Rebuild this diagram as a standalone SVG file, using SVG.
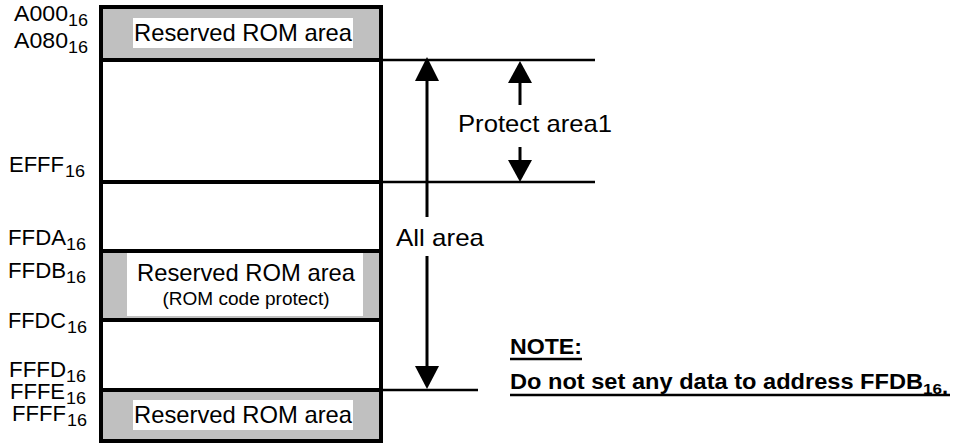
<svg xmlns="http://www.w3.org/2000/svg" width="957" height="445" viewBox="0 0 957 445">
<style>
text{font-family:"Liberation Sans",Arial,sans-serif;fill:#000}
.addr{font-size:22px;text-anchor:start}
.sub{font-size:16px}
.lbl{font-size:24px;text-anchor:middle}
.small{font-size:18px;text-anchor:middle}
.big{font-size:24px}
.note{font-size:22px;font-weight:bold}
.gray{fill:#c0c0c0}
.white{fill:#fff}
.sep{stroke:#000;stroke-width:4}
.ext{stroke:#000;stroke-width:2.5}
.shaft{stroke:#000;stroke-width:3}
.ul{stroke:#000;stroke-width:2.5}
</style>
<rect width="957" height="445" fill="#fff"/>
<g id="memory-map">
  <g id="reserved-top">
    <rect class="gray" x="103" y="9" width="276" height="50"/>
    <rect class="white" x="133" y="18" width="220" height="30"/>
    <text class="lbl" x="243" y="41" textLength="218" lengthAdjust="spacingAndGlyphs">Reserved ROM area</text>
  </g>
  <g id="reserved-mid">
    <rect class="gray" x="103" y="253" width="276" height="65"/>
    <rect class="white" x="127" y="253" width="236" height="63"/>
    <text class="lbl" x="246" y="281" textLength="218" lengthAdjust="spacingAndGlyphs">Reserved ROM area</text>
    <text class="small" x="246" y="305" textLength="167" lengthAdjust="spacingAndGlyphs">(ROM code protect)</text>
  </g>
  <g id="reserved-bottom">
    <rect class="gray" x="103" y="392" width="276" height="47"/>
    <rect class="white" x="133" y="400" width="220" height="30"/>
    <text class="lbl" x="243" y="423" textLength="218" lengthAdjust="spacingAndGlyphs">Reserved ROM area</text>
  </g>
  <rect x="101" y="7" width="280" height="434" fill="none" stroke="#000" stroke-width="4"/>
  <line class="sep" x1="101" y1="60" x2="381" y2="60"/>
  <line class="sep" x1="101" y1="182" x2="381" y2="182"/>
  <line class="sep" x1="101" y1="251" x2="381" y2="251"/>
  <line class="sep" x1="101" y1="320" x2="381" y2="320"/>
  <line class="sep" x1="101" y1="390" x2="381" y2="390"/>
</g>
<g id="addresses">
  <text class="addr" x="14" y="21" textLength="54" lengthAdjust="spacingAndGlyphs">A000</text><text class="sub" x="68" y="26" textLength="20" lengthAdjust="spacingAndGlyphs">16</text>
  <text class="addr" x="14" y="48" textLength="54" lengthAdjust="spacingAndGlyphs">A080</text><text class="sub" x="68" y="53" textLength="20" lengthAdjust="spacingAndGlyphs">16</text>
  <text class="addr" x="9" y="172" textLength="55" lengthAdjust="spacingAndGlyphs">EFFF</text><text class="sub" x="65" y="177" textLength="20" lengthAdjust="spacingAndGlyphs">16</text>
  <text class="addr" x="8" y="245" textLength="58" lengthAdjust="spacingAndGlyphs">FFDA</text><text class="sub" x="66" y="250" textLength="20" lengthAdjust="spacingAndGlyphs">16</text>
  <text class="addr" x="8" y="278" textLength="58" lengthAdjust="spacingAndGlyphs">FFDB</text><text class="sub" x="66" y="283" textLength="20" lengthAdjust="spacingAndGlyphs">16</text>
  <text class="addr" x="8" y="328" textLength="58" lengthAdjust="spacingAndGlyphs">FFDC</text><text class="sub" x="67" y="333" textLength="20" lengthAdjust="spacingAndGlyphs">16</text>
  <text class="addr" x="9" y="377" textLength="57" lengthAdjust="spacingAndGlyphs">FFFD</text><text class="sub" x="66" y="382" textLength="20" lengthAdjust="spacingAndGlyphs">16</text>
  <text class="addr" x="10" y="399" textLength="55" lengthAdjust="spacingAndGlyphs">FFFE</text><text class="sub" x="66" y="404" textLength="20" lengthAdjust="spacingAndGlyphs">16</text>
  <text class="addr" x="12" y="421" textLength="54" lengthAdjust="spacingAndGlyphs">FFFF</text><text class="sub" x="67" y="426" textLength="20" lengthAdjust="spacingAndGlyphs">16</text>
</g>
<g id="connectors">
  <line class="ext" x1="381" y1="60" x2="595" y2="60"/>
  <line class="ext" x1="381" y1="182" x2="595" y2="182"/>
  <line class="ext" x1="381" y1="390" x2="478" y2="390"/>
  <line class="shaft" x1="427" y1="78" x2="427" y2="217"/>
  <line class="shaft" x1="427" y1="256" x2="427" y2="370"/>
  <polygon points="427,57 415,81 439,81"/>
  <polygon points="427,389 415,366 439,366"/>
  <line class="shaft" x1="520" y1="80" x2="520" y2="105"/>
  <line class="shaft" x1="520" y1="147" x2="520" y2="163"/>
  <polygon points="520,61 508,83 532,83"/>
  <polygon points="520,182 508,160 532,160"/>
</g>
<g id="labels">
  <text class="big" x="458" y="132" textLength="154" lengthAdjust="spacingAndGlyphs">Protect area1</text>
  <text class="big" x="396" y="246" textLength="88" lengthAdjust="spacingAndGlyphs">All area</text>
</g>
<g id="note">
  <text class="note" x="510" y="354" textLength="72" lengthAdjust="spacingAndGlyphs">NOTE:</text>
  <line class="ul" x1="510" y1="359" x2="582" y2="359"/>
  <text class="note" x="510" y="389" textLength="413" lengthAdjust="spacingAndGlyphs">Do not set any data to address FFDB</text>
  <text class="note" x="923" y="394" style="font-size:15px" textLength="19" lengthAdjust="spacingAndGlyphs">16</text>
  <text class="note" x="942" y="394" style="font-size:22px">.</text>
  <line class="ul" x1="510" y1="395" x2="950" y2="395"/>
</g>
</svg>
